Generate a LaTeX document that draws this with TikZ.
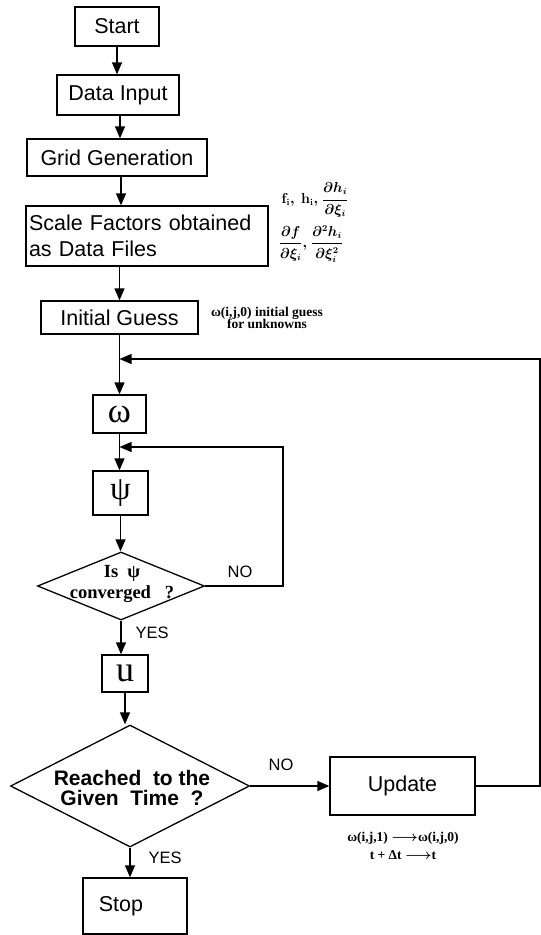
\documentclass[tikz,border=0pt]{standalone}
\usepackage{fontspec}
\usepackage{amsmath}
\setmainfont{Liberation Sans}
\newfontfamily\serifb{Liberation Serif}
\usetikzlibrary{arrows.meta,shapes.geometric}
\begin{document}
\begin{tikzpicture}[x=1pt,y=-1pt,line width=1.3pt,
  box/.style={draw,rectangle,inner sep=0pt,font=\fontsize{21.5}{26}\selectfont},
  greek/.style={box,font=\serifb\fontsize{#1}{#1}\selectfont},
  dia/.style={draw,diamond,inner sep=0pt},
  arr/.style={-{Triangle[length=12pt,width=10pt]}},
  lbl/.style={font=\fontsize{16.5}{18}\selectfont,inner sep=0pt},
  note/.style={font=\serifb\bfseries\fontsize{13.5}{12.5}\selectfont\boldmath,inner sep=0pt,align=center},
  mnote/.style={font=\fontsize{13.5}{14}\selectfont\boldmath,inner sep=0pt}]
\useasboundingbox (0,0) rectangle (541,935);
% boxes
\node[box,minimum width=84pt,minimum height=39pt] (start) at (117,26.5) {Start};
\node[box,minimum width=122pt,minimum height=40pt] (data) at (118,95) {Data Input};
\node[box,minimum width=180pt,minimum height=37pt] (grid) at (117,157.5) {Grid Generation};
\node[box,minimum width=242pt,minimum height=60pt,text width=236pt,align=left] (scale) at (147,236) {Scale Factors obtained\\as Data Files};
\node[box,minimum width=157pt,minimum height=33pt] (guess) at (119.5,317.5) {Initial Guess};
\node[greek=35,minimum width=53pt,minimum height=38pt] (omega) at (119.5,414) {ω};
\node[greek=33,minimum width=55pt,minimum height=44pt] (psi) at (120.5,493) {ψ};
\node[dia,minimum width=167pt,minimum height=68pt] (conv) at (121,586) {};
\node[font=\serifb\bfseries\fontsize{18.5}{21}\selectfont,align=center,inner sep=0pt] (convt) at (122,584) {Is\ \ ψ\\converged\ \ \ ?};
\node[greek=36,minimum width=46pt,minimum height=37pt] (u) at (125,673.5) {u};
\node[dia,minimum width=239pt,minimum height=122pt] (time) at (130,786) {};
\node[font=\bfseries\fontsize{21}{20}\selectfont,align=center,inner sep=0pt] (timet) at (132,788) {Reached\ \ to the\\Given\ \ Time\ \ ?};
\node[box,minimum width=145pt,minimum height=58pt] (update) at (402.5,786) {Update\hspace{18pt}};
\node[box,minimum width=104pt,minimum height=56pt] (stop) at (135,906) {\hspace*{-28pt}Stop};
% annotations
\node[mnote,anchor=west] (fh) at (281,200) {$\mathbf{f_i,\ h_i,}\ \displaystyle\frac{\partial h_i}{\partial \xi_i}$};
\node[mnote,anchor=west] (df) at (278,244) {$\displaystyle\frac{\partial f}{\partial \xi_i}\mathbf{,}\ \frac{\partial^2 h_i}{\partial \xi_i^2}$};
\node[note] (initn) at (267,318) {ω(i,j,0) initial guess\\for unknowns};
\node[note,font=\serifb\bfseries\fontsize{13.5}{18}\selectfont\boldmath] (updn) at (403,846) {ω(i,j,1) $\longrightarrow$ω(i,j,0)\\t + Δt $\longrightarrow$t};
% coordinates for loops
\coordinate (loopR) at (540,359);
\coordinate (innerR) at (283,447);
\coordinate (updR) at (540,786);
% connectors
\draw[arr] (start.south) -- (start.south |- data.north);
\draw[arr] ([xshift=2pt]data.south) -- ([xshift=2pt]data.south |- grid.north);
\draw[arr] ([xshift=4pt]grid.south) -- ([xshift=4pt]grid.south |- scale.north);
\draw[arr] (guess.north |- scale.south) -- (guess.north);
\draw[arr] (guess.south) -- (omega.north);
\draw[arr] (omega.south) -- (omega.south |- psi.north);
\draw[arr] (psi.south) -- (psi.south |- conv.north);
\draw[arr] (conv.east) -| (innerR) -- (innerR -| omega.south);
\draw[arr] (conv.south) -- (conv.south |- u.north);
\draw[arr] (u.south) -- (u.south |- time.north);
\draw[arr] (time.east) -- (update.west);
\draw[arr] (update.east) -- (updR) -- (loopR) -- (loopR -| guess.south);
\draw[arr] (time.south) -- (time.south |- stop.north);
% labels
\node[lbl,anchor=west] (no1) at (227,572) {NO};
\node[lbl,anchor=west] (yes1) at (135,633) {YES};
\node[lbl,anchor=west] (no2) at (268,765) {NO};
\node[lbl,anchor=west] (yes2) at (148,858) {YES};
\end{tikzpicture}
\end{document}
